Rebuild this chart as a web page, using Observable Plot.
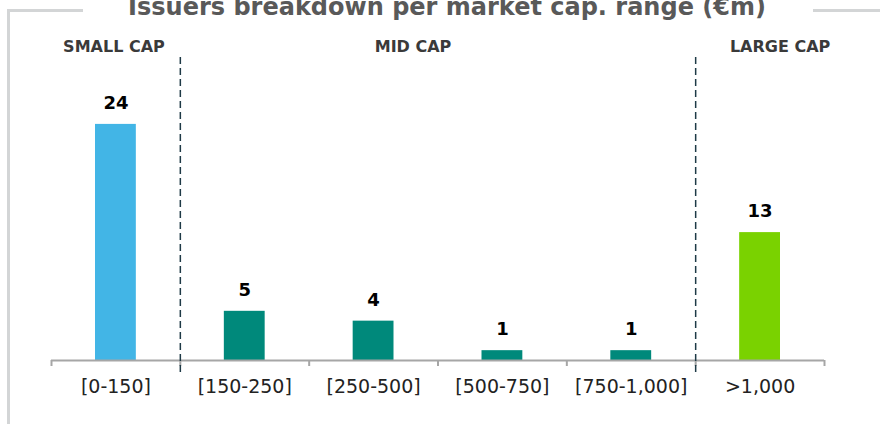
<!DOCTYPE html>
<html><head><meta charset="utf-8">
<script src="https://cdn.jsdelivr.net/npm/d3@7"></script>
<script src="https://cdn.jsdelivr.net/npm/@observablehq/plot@0.6"></script>
<style>
body{margin:0;background:#fff;}
#wrap{position:relative;width:880px;height:424px;overflow:hidden;font-family:"DejaVu Sans",Verdana,sans-serif;background:#fff;}
#chart{position:absolute;left:0;top:0;}
.frame{position:absolute;background:#d3d5d6;}
#title{position:absolute;left:7px;top:-5px;width:880px;text-align:center;font-size:24px;line-height:24px;font-weight:bold;color:#595959;white-space:nowrap;}
</style></head><body>
<div id="wrap">
<div class="frame" style="left:7px;top:9px;width:3px;height:420px"></div>
<div class="frame" style="left:7px;top:9px;width:76px;height:3px"></div>
<div class="frame" style="left:813px;top:9px;width:67px;height:3px"></div>
<div id="title">Issuers breakdown per market cap. range (€m)</div>
<div id="chart"></div>
</div>
<script>
const categories = ["[0-150]", "[150-250]", "[250-500]", "[500-750]", "[750-1,000]", ">1,000"];
const issuers = [24, 5, 4, 1, 1, 13];
const capGroups = ["SMALL CAP", "MID CAP", "MID CAP", "MID CAP", "MID CAP", "LARGE CAP"];
const groupNames = ["SMALL CAP", "MID CAP", "LARGE CAP"];
const groupColors = ["#42b5e6", "#00897b", "#7ad200"];

const data = categories.map((c, i) => ({i, category: c, value: issuers[i], group: capGroups[i]}));
const n = categories.length;
const boundaries = d3.range(n + 1);
const centers = d3.range(n).map(i => i + 0.5);
const separators = data.filter((d, i) => i > 0 && d.group !== data[i - 1].group).map(d => d.i);
const groupSpans = groupNames.map(g => {
  const idx = data.filter(d => d.group === g).map(d => d.i);
  return {group: g, x: (d3.min(idx) + d3.max(idx) + 1) / 2};
});
const labelShift = {"SMALL CAP": -2, "MID CAP": -25, "LARGE CAP": 20};
const font = "'DejaVu Sans', Verdana, sans-serif";

const chart = Plot.plot({
  width: 880,
  height: 424,
  marginLeft: 51,
  marginRight: 56,
  marginTop: 57,
  marginBottom: 64,
  style: {fontFamily: font, background: "transparent"},
  x: {domain: [0, n]},
  y: {domain: [0, 30.8], axis: null},
  color: {domain: groupNames, range: groupColors},
  marks: [
    Plot.rectY(data, {x1: "i", x2: d => d.i + 1, y: "value", fill: "group", insetLeft: 44, insetRight: 44}),
    Plot.ruleY([0], {stroke: "#a6a6a6", strokeWidth: 2}),
    Plot.axisX({ticks: boundaries, tickSize: 6, tickFormat: () => "", stroke: "#a6a6a6", strokeWidth: 2}),
    Plot.axisX({ticks: centers, tickSize: 0, tickPadding: 19, tickFormat: v => categories[Math.floor(v)], fontSize: 19, fill: "#222"}),
    Plot.ruleX(separators, {stroke: "#1e3a46", strokeWidth: 1.5, strokeDasharray: "7,4", insetBottom: -13}),
    Plot.text(data, {x: d => d.i + 0.5, y: "value", text: d => String(d.value), dy: -21, lineAnchor: "middle", fontSize: 18, fontWeight: "bold", fill: "#000"}),
    groupSpans.map(g => Plot.text([g], {x: "x", text: "group", frameAnchor: "top", dy: -11, dx: labelShift[g.group], lineAnchor: "middle", fontSize: 16, fontWeight: "bold", fill: "#3a3a3a"}))
  ]
});
document.getElementById("chart").appendChild(chart);
</script>
</body></html>
